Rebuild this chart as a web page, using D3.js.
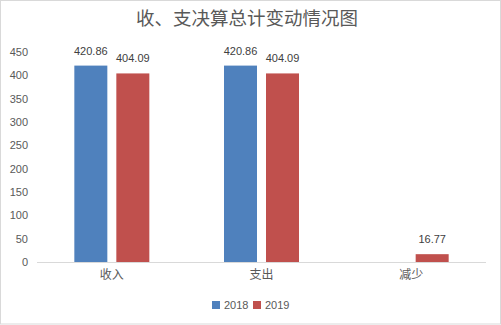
<!DOCTYPE html>
<html>
<head>
<meta charset="utf-8">
<script src="https://cdn.jsdelivr.net/npm/d3@7"></script>
<style>
html,body{margin:0;padding:0;background:#fff;}
svg{display:block;}
</style>
</head>
<body>
<svg id="chart" width="501" height="325"></svg>
<script>
const categories = ["收入", "支出", "减少"];
const seriesNames = ["2018", "2019"];
const values2018 = [420.86, 420.86, null];
const values2019 = [404.09, 404.09, 16.77];
const yTicks = [0, 50, 100, 150, 200, 250, 300, 350, 400, 450];
const colors = ["#4F81BD", "#C0504D"];
const title = "收、支决算总计变动情况图";

const W = 501, H = 325;
const svg = d3.select("#chart");
const numFont = "'Liberation Sans', 'Noto Sans CJK SC', sans-serif";
const cjkFont = "'Noto Sans CJK SC', sans-serif";

// border
svg.append("rect").attr("x", 0.5).attr("y", 0.5).attr("width", W - 1).attr("height", H - 1.5)
  .attr("fill", "#fff").attr("stroke", "#d9d9d9").attr("stroke-width", 1);

const plot = {left: 37, right: 486, top: 52, bottom: 262};

const x = d3.scaleBand().domain(categories).range([plot.left, plot.right]).paddingInner(0).paddingOuter(0);
const y = d3.scaleLinear().domain([0, 450]).range([plot.bottom, plot.top]);

const barW = 33, gap = 9;
const offsets = [-(gap / 2 + barW), gap / 2];
const series = [values2018, values2019];

// title
svg.append("text").attr("x", 247).attr("y", 24.5).attr("text-anchor", "middle")
  .attr("font-family", cjkFont).attr("font-size", 18.5).attr("fill", "#595959").text(title);

// y tick labels
const yAxis = d3.axisLeft(y).tickValues(yTicks).tickSize(0).tickPadding(0).tickFormat(d3.format("d"));
const yg = svg.append("g").attr("transform", `translate(28,0)`).call(yAxis);
yg.select(".domain").remove();
yg.selectAll("text").attr("font-family", numFont).attr("font-size", 11).attr("fill", "#595959");

// bars
series.forEach((vals, si) => {
  const g = svg.append("g");
  categories.forEach((c, i) => {
    const v = vals[i];
    if (v == null) return;
    const cx = x(c) + x.bandwidth() / 2;
    const bx = cx + offsets[si];
    g.append("rect").attr("x", bx).attr("y", y(v)).attr("width", barW).attr("height", y(0) - y(v))
      .attr("fill", colors[si]);
    g.append("text").attr("x", bx + barW / 2).attr("y", y(v) - 11).attr("text-anchor", "middle")
      .attr("font-family", numFont).attr("font-size", 11).attr("fill", "#404040").text(d3.format(".2f")(v));
  });
});

// x axis
const xAxis = d3.axisBottom(x).tickSize(0).tickPadding(0);
const xg = svg.append("g").attr("transform", `translate(0,${plot.bottom})`).call(xAxis);
xg.select(".domain").attr("stroke", "#d9d9d9").attr("stroke-width", 1).attr("d", `M${plot.left},0.5H${plot.right}`);
xg.selectAll("text").attr("font-family", cjkFont).attr("font-size", 12).attr("fill", "#595959").attr("dy", "1.4em");

// legend
const legendX = [212, 253];
seriesNames.forEach((s, i) => {
  const lg = svg.append("g").attr("transform", `translate(${legendX[i]},301)`);
  lg.append("rect").attr("width", 8).attr("height", 8).attr("fill", colors[i]);
  lg.append("text").attr("x", 12).attr("y", 8).attr("font-family", numFont).attr("font-size", 11)
    .attr("fill", "#595959").text(s);
});
</script>
</body>
</html>
